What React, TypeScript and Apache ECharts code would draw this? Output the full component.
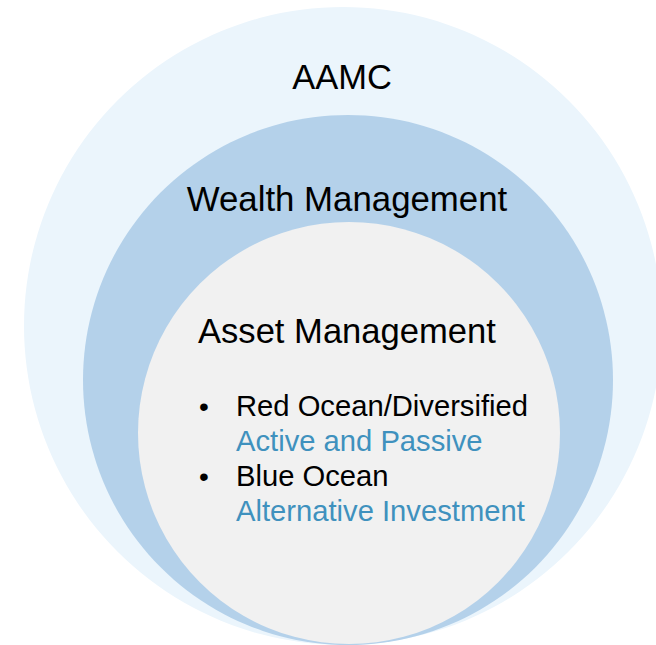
import React, { useEffect, useRef } from "react";
import * as echarts from "echarts";

const layerNames = ["AAMC", "Wealth Management", "Asset Management"];
const layerColors = ["#EBF5FC", "#B4D1EA", "#F1F1F1"];
const bulletTitles = ["Red Ocean/Diversified", "Blue Ocean"];
const bulletSubs = ["Active and Passive", "Alternative Investment"];

const FONT = "Liberation Sans, Arial, Helvetica, sans-serif";

export default function App() {
  const ref = useRef<HTMLDivElement>(null);
  useEffect(() => {
    if (!ref.current) return;
    const chart = echarts.init(ref.current, null, { renderer: "svg" });
    const circles = [
      { cx: 343, cy: 326, r: 319 },
      { cx: 348, cy: 380, r: 265 },
      { cx: 349, cy: 433, r: 211 },
    ];
    const elements: any[] = [];
    circles.forEach((c, i) => {
      elements.push({
        type: "circle",
        shape: { cx: c.cx, cy: c.cy, r: c.r },
        style: { fill: layerColors[i] },
        silent: true,
      });
    });
    elements.push({
      type: "text",
      x: 342,
      y: 77,
      style: { text: layerNames[0], fill: "#000", font: `34.5px ${FONT}`, align: "center", verticalAlign: "middle" },
    });
    elements.push({
      type: "text",
      x: 347,
      y: 198,
      style: { text: layerNames[1], fill: "#000", font: `34.8px ${FONT}`, align: "center", verticalAlign: "middle" },
    });
    elements.push({
      type: "text",
      x: 198,
      y: 331,
      style: { text: layerNames[2], fill: "#000", font: `34.6px ${FONT}`, align: "left", verticalAlign: "middle" },
    });
    bulletTitles.forEach((t, i) => {
      const y0 = 406 + i * 70;
      elements.push({
        type: "text",
        x: 204,
        y: y0,
        style: { text: "•", fill: "#000", font: `28px ${FONT}`, align: "center", verticalAlign: "middle" },
      });
      elements.push({
        type: "text",
        x: 236,
        y: y0,
        style: { text: t, fill: "#000", font: `29.2px ${FONT}`, align: "left", verticalAlign: "middle" },
      });
      elements.push({
        type: "text",
        x: 236,
        y: y0 + 35,
        style: { text: bulletSubs[i], fill: "#3F91BE", font: `29.2px ${FONT}`, align: "left", verticalAlign: "middle" },
      });
    });
    chart.setOption({
      animation: false,
      backgroundColor: "#ffffff",
      graphic: { elements },
    });
    return () => chart.dispose();
  }, []);
  return (
    <div
      ref={ref}
      style={{ position: "fixed", left: 0, top: 0, width: 656, height: 645 }}
    />
  );
}
